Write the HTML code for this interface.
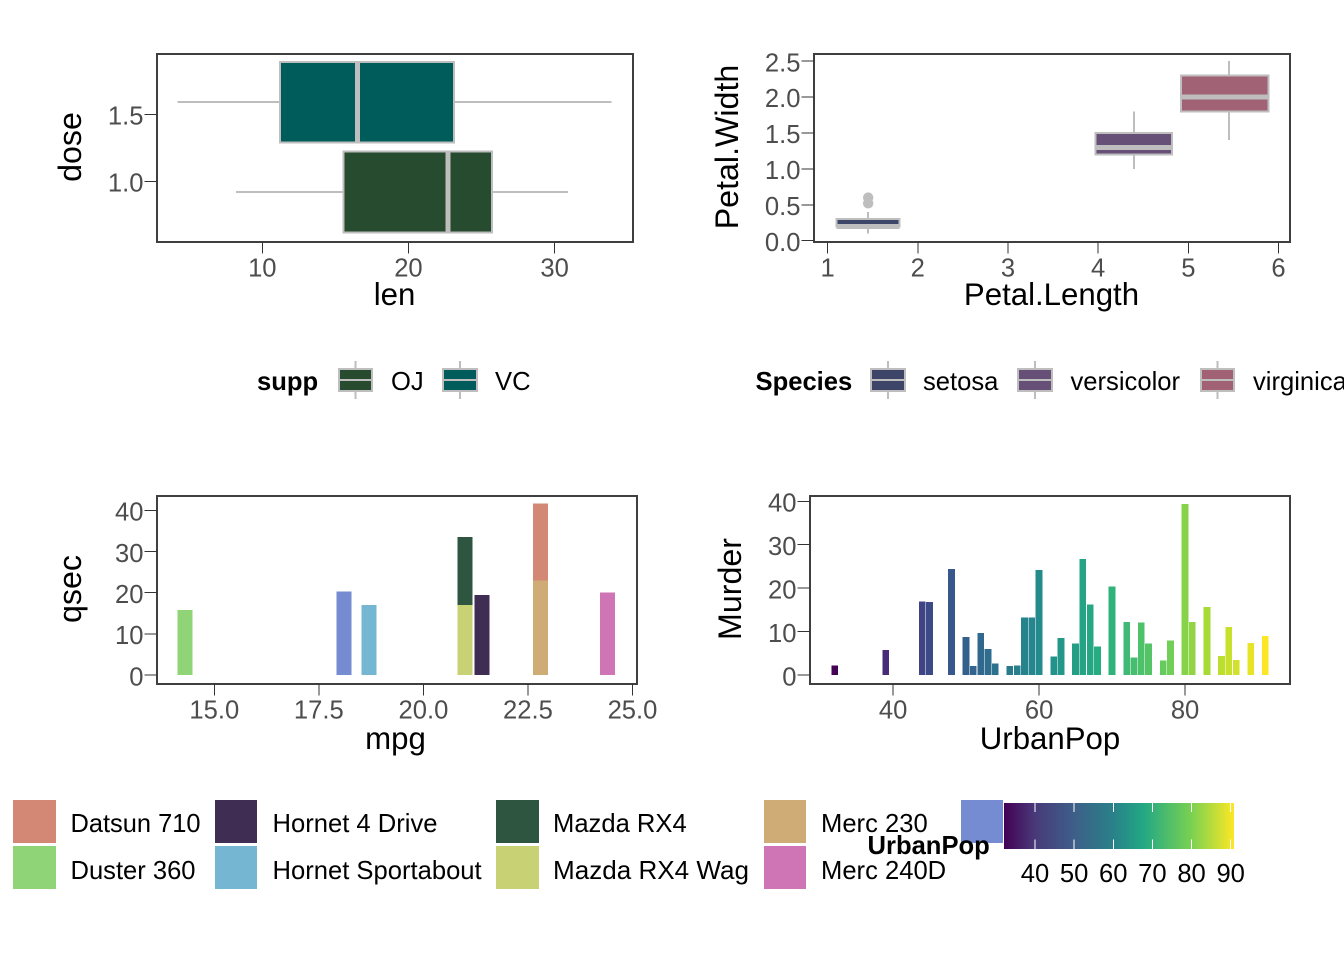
<!DOCTYPE html>
<html>
<head>
<meta charset="utf-8">
<title>Grid of ggplot charts</title>
<style>
html,body{margin:0;padding:0;background:#fff;width:1344px;height:960px;overflow:hidden}
svg{display:block}
text{font-family:"Liberation Sans",Arial,sans-serif}
.tick{font-size:25.6px;fill:#4d4d4d}
.title{font-size:31.2px;fill:#000}
.title-v{font-size:32.2px;fill:#000}
.leg{font-size:25.6px;fill:#000}
.legb{font-size:25.6px;font-weight:bold;fill:#000}
#p1 rect,#p1 line,#p2 rect,#p2 line,#p3 rect,#p3 line,#p4 rect,#p4 line,#legend-supp rect,#legend-supp line,#legend-species rect,#legend-species line,#legend-urbanpop line{shape-rendering:crispEdges}
</style>
</head>
<body>
<svg id="chart" xmlns="http://www.w3.org/2000/svg" width="1344" height="960" viewBox="0 0 1344 960">
  <rect x="0" y="0" width="1344" height="960" fill="#ffffff"/>
  <g id="p1"></g>
  <g id="p2"></g>
  <g id="p3"></g>
  <g id="p4"></g>

  <text class="title" x="394.5" y="305" text-anchor="middle">len</text>
  <text class="title-v" transform="translate(81,147) rotate(-90)" text-anchor="middle">dose</text>
  <text class="title" x="1051.5" y="305" text-anchor="middle">Petal.Length</text>
  <text class="title-v" transform="translate(738,147) rotate(-90)" text-anchor="middle">Petal.Width</text>
  <text class="title" x="395.5" y="749" text-anchor="middle">mpg</text>
  <text class="title-v" transform="translate(81,589) rotate(-90)" text-anchor="middle">qsec</text>
  <text class="title" x="1050" y="749" text-anchor="middle">UrbanPop</text>
  <text class="title-v" transform="translate(741,589) rotate(-90)" text-anchor="middle">Murder</text>

  <g id="legend-supp">
    <text class="legb" x="257" y="390">supp</text>
    <text class="leg" x="391" y="390">OJ</text>
    <text class="leg" x="495" y="390">VC</text>
  </g>
  <g id="legend-species">
    <text class="legb" x="755.5" y="390">Species</text>
    <text class="leg" x="923" y="390">setosa</text>
    <text class="leg" x="1070.5" y="390">versicolor</text>
    <text class="leg" x="1253" y="390">virginica</text>
  </g>

  <g id="legend-cars">
    <rect x="13" y="800" width="43" height="43" fill="#d28874"/>
    <rect x="13" y="846" width="43" height="43" fill="#8fd476"/>
    <rect x="215" y="800" width="42" height="43" fill="#3f2d54"/>
    <rect x="215" y="846" width="42" height="43" fill="#75b7d2"/>
    <rect x="496" y="800" width="43" height="43" fill="#2d5540"/>
    <rect x="496" y="846" width="43" height="43" fill="#c8d274"/>
    <rect x="764" y="800" width="42" height="43" fill="#cfab76"/>
    <rect x="764" y="846" width="42" height="43" fill="#cf74b5"/>
    <rect x="961" y="800" width="42" height="43" fill="#758bd2"/>
    <text class="leg" x="70.5" y="832" textLength="130" lengthAdjust="spacingAndGlyphs">Datsun 710</text>
    <text class="leg" x="70.5" y="879" textLength="125" lengthAdjust="spacingAndGlyphs">Duster 360</text>
    <text class="leg" x="272.5" y="832">Hornet 4 Drive</text>
    <text class="leg" x="272.5" y="879">Hornet Sportabout</text>
    <text class="leg" x="553" y="832">Mazda RX4</text>
    <text class="leg" x="553" y="879" textLength="196" lengthAdjust="spacingAndGlyphs">Mazda RX4 Wag</text>
    <text class="leg" x="821" y="832">Merc 230</text>
    <text class="leg" x="821" y="879">Merc 240D</text>
    <text class="leg" x="1018" y="832">Valiant</text>
  </g>

  <defs>
    <linearGradient id="viridis-grad" x1="0" y1="0" x2="1" y2="0">
      <stop offset="0" stop-color="#440154"/>
      <stop offset="0.136" stop-color="#483a7a"/>
      <stop offset="0.306" stop-color="#3d5f88"/>
      <stop offset="0.475" stop-color="#298189"/>
      <stop offset="0.606" stop-color="#22a884"/>
      <stop offset="0.815" stop-color="#7ad151"/>
      <stop offset="1" stop-color="#fde725"/>
    </linearGradient>
  </defs>
  <g id="legend-urbanpop">
    <rect x="1004" y="803" width="230" height="46" fill="url(#viridis-grad)"/>
    <text class="legb" x="867.5" y="854">UrbanPop</text>
  </g>
</svg>

<script>
// ToothGrowth boxplot
const suppNames = ['OJ', 'VC'];
const suppColors = ['#274b2f', '#005c5b'];
const suppDoseCenter = [0.92, 1.59];
const suppQ1 = [15.55, 11.2];
const suppMedian = [22.7, 16.5];
const suppQ3 = [25.7, 23.1];
const suppWhiskerLow = [8.2, 4.2];
const suppWhiskerHigh = [30.9, 33.9];
const lenTicks = [10, 20, 30];
const doseTicks = [1.0, 1.5];

// iris boxplot
const speciesNames = ['setosa', 'versicolor', 'virginica'];
const speciesColors = ['#3d4568', '#665078', '#a06274'];
const speciesLengthMin = [1.1, 3.97, 4.92];
const speciesLengthMax = [1.8, 4.82, 5.89];
const speciesLengthCenter = [1.45, 4.4, 5.45];
const speciesQ1 = [0.2, 1.2, 1.8];
const speciesMedian = [0.2, 1.3, 2.0];
const speciesQ3 = [0.3, 1.5, 2.3];
const speciesWhiskerLow = [0.1, 1.0, 1.4];
const speciesWhiskerHigh = [0.4, 1.8, 2.5];
const setosaOutliers = [0.52, 0.6];
const petalLengthTicks = [1, 2, 3, 4, 5, 6];
const petalWidthTicks = [0.0, 0.5, 1.0, 1.5, 2.0, 2.5];

// mtcars stacked bars
const carNames = ['Merc 230', 'Datsun 710', 'Mazda RX4 Wag', 'Mazda RX4', 'Hornet 4 Drive', 'Hornet Sportabout', 'Valiant', 'Duster 360', 'Merc 240D'];
const carMpg = [22.8, 22.8, 21, 21, 21.4, 18.7, 18.1, 14.3, 24.4];
const carQsec = [22.9, 18.8, 17.02, 16.46, 19.44, 17.02, 20.22, 15.84, 20.0];
const carColors = ['#cfab76', '#d28874', '#c8d274', '#2d5540', '#3f2d54', '#75b7d2', '#758bd2', '#8fd476', '#cf74b5'];
const mpgTicks = ['15.0', '17.5', '20.0', '22.5', '25.0'];
const qsecTicks = [0, 10, 20, 30, 40];

// USArrests bars
const urbanPop = [32, 39, 44, 45, 48, 50, 51, 52, 53, 54, 56, 57, 58, 59, 60, 62, 63, 65, 66, 67, 68, 70, 72, 73, 74, 75, 77, 78, 80, 81, 83, 85, 86, 87, 89, 91];
const murder = [2.2, 5.7, 16.9, 16.8, 24.4, 8.8, 2.1, 9.7, 6.0, 2.6, 2.1, 2.2, 13.2, 13.2, 24.2, 4.3, 8.5, 7.2, 26.7, 16.2, 6.6, 20.4, 12.2, 4.0, 12.1, 7.3, 3.3, 7.9, 39.4, 12.2, 15.7, 4.4, 11.1, 3.4, 7.4, 9.0];
const urbanTicks = [40, 60, 80];
const murderTicks = [0, 10, 20, 30, 40];
const colorbarTicks = [40, 50, 60, 70, 80, 90];

const NS = 'http://www.w3.org/2000/svg';
const GREY = '#bebebe';
const viridis = ['#440154', '#472d7b', '#3b528b', '#2c728e', '#21918c', '#28ae80', '#5ec962', '#addc30', '#fde725'];

function make(tag, attrs, parent) {
  const el = document.createElementNS(NS, tag);
  for (const k in attrs) el.setAttribute(k, attrs[k]);
  parent.appendChild(el);
  return el;
}
function hexRgb(h) {
  return [parseInt(h.slice(1, 3), 16), parseInt(h.slice(3, 5), 16), parseInt(h.slice(5, 7), 16)];
}
function viridisAt(t) {
  const p = Math.max(0, Math.min(1, t)) * (viridis.length - 1);
  const i = Math.min(Math.floor(p), viridis.length - 2);
  const f = p - i;
  const a = hexRgb(viridis[i]);
  const b = hexRgb(viridis[i + 1]);
  return 'rgb(' + a.map((v, k) => Math.round(v + (b[k] - v) * f)).join(',') + ')';
}
function linear(v0, p0, v1, p1) {
  return v => p0 + (v - v0) * (p1 - p0) / (v1 - v0);
}
function drawAxes(g, box, xTicks, yTicks, xScale, yScale) {
  for (const t of xTicks) {
    const x = xScale(parseFloat(t));
    const tick = make('line', {x1: x, x2: x, y1: box.b, y2: box.b + 11.5, stroke: '#333333', 'stroke-width': 1}, g);
    
    
    const label = make('text', {x: x, y: box.b + 34.5, 'text-anchor': 'middle', class: 'tick'}, g);
    label.textContent = t;
    
    
  }
  for (const t of yTicks) {
    const y = yScale(parseFloat(t));
    const tick = make('line', {x1: box.l - 12.5, x2: box.l, y1: y, y2: y, stroke: '#333333', 'stroke-width': 1}, g);
    
    
    const label = make('text', {x: box.l - 13.5, y: y + 10.3, 'text-anchor': 'end', class: 'tick'}, g);
    label.textContent = t;
    
    
  }
}
function drawBorder(g, box) {
  const border = make('rect', {x: box.l, y: box.t, width: box.r - box.l, height: box.b - box.t, fill: 'none', stroke: '#3f3f3f', 'stroke-width': 2}, g);
  
  
}
function drawKey(parent, left, width, color, name) {
  const cx = left + width / 2;
  const w = make('line', {x1: cx, x2: cx, y1: 361, y2: 399, stroke: GREY, 'stroke-width': 2}, parent);
  
  
  const r = make('rect', {x: left, y: 369, width: width, height: 22, fill: color, stroke: GREY, 'stroke-width': 2}, parent);
  
  
  const m = make('line', {x1: left, x2: left + width, y1: 380, y2: 380, stroke: GREY, 'stroke-width': 2}, parent);
  
  
}

/* Panel 1 */
(function () {
  const g = document.getElementById('p1');
  const box = {l: 157, r: 633, t: 54, b: 242};
  const x = linear(10, 262.3, 30, 554.6);
  const y = linear(1.0, 181.3, 1.5, 114.3);
  const halfHeight = 0.302;
  suppNames.forEach((name, i) => {
    const whisker = make('line', {x1: x(suppWhiskerLow[i]), x2: x(suppWhiskerHigh[i]), y1: y(suppDoseCenter[i]), y2: y(suppDoseCenter[i]), stroke: GREY, 'stroke-width': 2}, g);
    
    
    const rect = make('rect', {x: x(suppQ1[i]), y: y(suppDoseCenter[i] + halfHeight), width: x(suppQ3[i]) - x(suppQ1[i]), height: y(suppDoseCenter[i] - halfHeight) - y(suppDoseCenter[i] + halfHeight), fill: suppColors[i], stroke: GREY, 'stroke-width': 2}, g);
    
    
    const med = make('line', {x1: x(suppMedian[i]), x2: x(suppMedian[i]), y1: y(suppDoseCenter[i] + halfHeight), y2: y(suppDoseCenter[i] - halfHeight), stroke: GREY, 'stroke-width': 5}, g);
    
    
  });
  drawBorder(g, box);
  drawAxes(g, box, lenTicks.map(String), doseTicks.map(v => v.toFixed(1)), x, y);
})();

/* Panel 2 */
(function () {
  const g = document.getElementById('p2');
  const box = {l: 814, r: 1290, t: 54, b: 242};
  const x = linear(1, 827.6, 6, 1278.5);
  const y = linear(0, 240.7, 2.5, 61);
  speciesNames.forEach((name, i) => {
    const cx = x(speciesLengthCenter[i]);
    const whisker = make('line', {x1: cx, x2: cx, y1: y(speciesWhiskerLow[i]), y2: y(speciesWhiskerHigh[i]), stroke: GREY, 'stroke-width': 2}, g);
    
    
    const rect = make('rect', {x: x(speciesLengthMin[i]), y: y(speciesQ3[i]), width: x(speciesLengthMax[i]) - x(speciesLengthMin[i]), height: y(speciesQ1[i]) - y(speciesQ3[i]), fill: speciesColors[i], stroke: GREY, 'stroke-width': 2}, g);
    
    
    const med = make('line', {x1: x(speciesLengthMin[i]), x2: x(speciesLengthMax[i]), y1: y(speciesMedian[i]), y2: y(speciesMedian[i]), stroke: GREY, 'stroke-width': 5}, g);
    
    
  });
  for (const v of setosaOutliers) {
    const c = make('circle', {cx: x(speciesLengthCenter[0]), cy: y(v), r: 5.2, fill: GREY}, g);
    
    
  }
  drawBorder(g, box);
  drawAxes(g, box, petalLengthTicks.map(String), petalWidthTicks.map(v => v.toFixed(1)), x, y);
})();

/* Panel 3 */
(function () {
  const g = document.getElementById('p3');
  const box = {l: 157, r: 637, t: 496, b: 684};
  const x = linear(15, 214.3, 25, 632.5);
  const y = linear(0, 675, 40, 510.3);
  const barWidth = 0.36;
  const stackTop = {};
  carNames.forEach((name, i) => {
    const base = stackTop[carMpg[i]] || 0;
    const top = base + carQsec[i];
    stackTop[carMpg[i]] = top;
    const rect = make('rect', {x: x(carMpg[i] - barWidth / 2), y: y(top), width: x(carMpg[i] + barWidth / 2) - x(carMpg[i] - barWidth / 2), height: y(base) - y(top), fill: carColors[i]}, g);
    
    
  });
  drawBorder(g, box);
  drawAxes(g, box, mpgTicks, qsecTicks.map(String), x, y);
})();

/* Panel 4 */
(function () {
  const g = document.getElementById('p4');
  const box = {l: 810, r: 1290, t: 496, b: 684};
  const x = linear(40, 893.1, 80, 1185.06);
  const y = linear(0, 675, 40, 501.3);
  const barWidth = 0.92;
  const minU = Math.min.apply(null, urbanPop);
  const maxU = Math.max.apply(null, urbanPop);
  urbanPop.forEach((u, i) => {
    const rect = make('rect', {x: x(u - barWidth / 2), y: y(murder[i]), width: x(u + barWidth / 2) - x(u - barWidth / 2), height: y(0) - y(murder[i]), fill: viridisAt((u - minU) / (maxU - minU))}, g);
    
    
  });
  drawBorder(g, box);
  drawAxes(g, box, urbanTicks.map(String), murderTicks.map(String), x, y);
})();

/* Boxplot legend keys */
(function () {
  const s = document.getElementById('legend-supp');
  drawKey(s, 339, 33, suppColors[0], 'oj');
  drawKey(s, 443, 34, suppColors[1], 'vc');
  const p = document.getElementById('legend-species');
  drawKey(p, 871, 34, speciesColors[0], 'setosa');
  drawKey(p, 1018, 34, speciesColors[1], 'versicolor');
  drawKey(p, 1201, 33, speciesColors[2], 'virginica');
})();

/* Colorbar ticks */
(function () {
  const g = document.getElementById('legend-urbanpop');
  const x = linear(40, 1035, 90, 1230.7);
  for (const t of colorbarTicks) {
    const top = make('line', {x1: x(t), x2: x(t), y1: 803, y2: 812, stroke: '#ffffff', 'stroke-width': 1}, g);
    
    
    const bottom = make('line', {x1: x(t), x2: x(t), y1: 839.5, y2: 849, stroke: '#ffffff', 'stroke-width': 1}, g);
    
    
    const label = make('text', {x: x(t), y: 882, 'text-anchor': 'middle', class: 'leg'}, g);
    label.textContent = String(t);
    
    
  }
})();
</script>
</body>
</html>
